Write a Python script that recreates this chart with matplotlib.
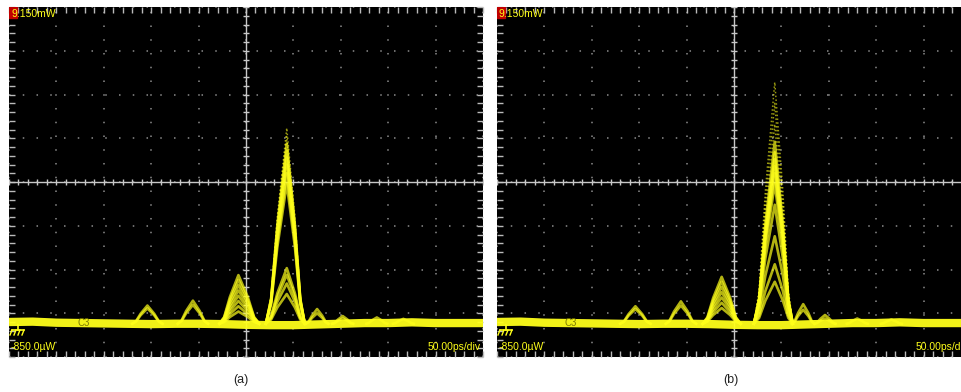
import matplotlib
matplotlib.use("Agg")
import matplotlib.pyplot as plt
from matplotlib.patches import Rectangle
import numpy as np

plt.rcParams['font.family'] = ['Liberation Sans', 'DejaVu Sans']

# ---------------- data (time in ps, power in mW) ----------------
y_top_label = "9.150mW"
y_bot_label = "-850.0\u00b5W"
x_scale_label = "50.00ps/div"
panel_labels = ["(a)", "(b)"]

base_t = [-250, -225, -200, -175, -150, -125, -100, -75, -50, -25, 0,
          25, 50, 75, 100, 125, 150, 175, 200, 225, 250]
base_a = [0.15, 0.16, 0.13, 0.12, 0.11, 0.10, 0.09, 0.10, 0.10, 0.09, 0.07,
          0.06, 0.06, 0.08, 0.10, 0.12, 0.12, 0.14, 0.12, 0.12, 0.12]
base_b = [0.15, 0.16, 0.13, 0.12, 0.11, 0.10, 0.09, 0.10, 0.10, 0.09, 0.07,
          0.06, 0.06, 0.08, 0.10, 0.12, 0.12, 0.14, 0.12, 0.12, 0.12]

# normalised pulse shape (fraction of half-width, fraction of height)
shape_x = [-1.0, -0.75, -0.45, 0.0, 0.45, 0.75, 1.0]
shape_y = [0.0, 0.14, 0.55, 1.0, 0.55, 0.14, 0.0]

# pulses: centre time, left half-width, right half-width, amplitudes
pulse_t_a = [-104, -56, -8, 43, 75, 102, 138, 166]
pulse_wl_a = [16, 16, 20, 22, 12, 11, 11, 11]
pulse_wr_a = [16, 16, 22, 19, 12, 11, 11, 11]
pulse_amp_a = [
    [0.62, 0.54],
    [0.76, 0.64],
    [1.49, 1.35, 1.20, 1.05, 0.90, 0.75, 0.60, 0.45],
    [5.69, 5.45, 5.25, 5.05, 4.85, 4.65, 4.40, 4.10, 1.69, 1.50, 1.25, 0.95],
    [0.52, 0.40],
    [0.32, 0.25],
    [0.28],
    [0.24],
]

pulse_t_b = [-104, -56, -13, 43, 73, 96, 130, 166]
pulse_wl_b = [16, 16, 20, 22, 12, 11, 11, 11]
pulse_wr_b = [16, 16, 20, 19, 12, 11, 11, 11]
pulse_amp_b = [
    [0.60, 0.52],
    [0.74, 0.62],
    [1.44, 1.30, 1.15, 1.00, 0.85, 0.70, 0.55],
    [7.00, 6.40, 5.80, 5.30, 5.00, 4.80, 4.60, 4.40, 4.10, 3.50, 2.60,
     1.80, 1.30],
    [0.66, 0.50],
    [0.35, 0.25],
    [0.25],
    [0.22],
]

# ---------------- layout ----------------
W, H = 962, 392
fig = plt.figure(figsize=(W / 100, H / 100), dpi=100)
fig.patch.set_facecolor('white')

YEL = '#ffff1a'
GRID = '#8c8c8c'
XMIN, XMAX = -250, 250
YMIN, YMAX = -0.85, 9.15


def make_panel(x0, base_y, p_t, p_wl, p_wr, p_amp, label, label_x):
    ax = fig.add_axes([x0 / W, (H - 357) / H, 474 / W, 350 / H])
    ax.set_facecolor('black')
    ax.set_xlim(XMIN, XMAX)
    ax.set_ylim(YMIN, YMAX)
    for s in ax.spines.values():
        s.set_visible(False)
    ax.set_xticks(np.arange(XMIN, XMAX + 1, 50))
    ax.set_yticks(np.linspace(YMIN, YMAX, 9))
    ax.set_xticks(np.arange(XMIN, XMAX + 1, 10), minor=True)
    ax.set_yticks(np.linspace(YMIN, YMAX, 41), minor=True)
    ax.tick_params(which='both', direction='in', length=4, width=1,
                   colors='#bbbbbb', top=True, right=True,
                   labelbottom=False, labelleft=False)
    ax.grid(True, which='major', color=GRID, linestyle=(0, (1, 8)), lw=1.1)
    yc = (YMIN + YMAX) / 2
    ax.axhline(yc, color='#c8c8c8', lw=1.0)
    ax.axvline(0, color='#c8c8c8', lw=1.0)
    ax.plot(np.arange(XMIN, XMAX + 1, 10), [yc] * 51, ls='none',
            marker='|', ms=5, color='#c8c8c8', mew=1)
    ax.plot([0] * 41, np.linspace(YMIN, YMAX, 41), ls='none',
            marker='_', ms=5, color='#c8c8c8', mew=1)

    # baseline band
    ax.plot(base_t, base_y, color=YEL, lw=6.0, solid_capstyle='butt',
            alpha=0.95)
    # pulses
    for tc, wl, wr, amps in zip(p_t, p_wl, p_wr, p_amp):
        xs = [tc + f * (wl if f < 0 else wr) for f in shape_x]
        for i, a in enumerate(amps):
            ys = [b + f * (a - b) for f, b in zip(shape_y, [0.1] * len(shape_y))]
            if a > 5.3:
                ax.plot(xs, ys, color=YEL, lw=1.1, alpha=0.6,
                        ls=(0, (1.0, 1.5)))
            else:
                ax.plot(xs, ys, color=YEL, lw=1.9, alpha=0.7,
                        solid_joinstyle='round')

    # on-screen annotations
    ax.add_patch(Rectangle((0, 1 - 11 / 350), 8 / 474, 11 / 350,
                           transform=ax.transAxes, color='#c00000', zorder=5))
    ax.text(2 / 474, 1 - 7 / 350, y_top_label, transform=ax.transAxes,
            color=YEL, fontsize=7.5, va='center', ha='left', zorder=6)
    ax.text(2 / 474, 10 / 350, y_bot_label, transform=ax.transAxes,
            color=YEL, fontsize=7.5, va='center', ha='left', zorder=6)
    ax.text(472 / 474, 10 / 350, x_scale_label, transform=ax.transAxes,
            color=YEL, fontsize=7.5, va='center', ha='right', zorder=6)
    ax.text(68 / 474, 34 / 350, "C3", transform=ax.transAxes,
            color='#7a7a00', fontsize=7, va='center', ha='left', zorder=6)
    # ground symbol
    gx, gy = 3 / 474, 27 / 350
    ax.plot([gx, gx + 12 / 474], [gy, gy], transform=ax.transAxes,
            color=YEL, lw=1.2, zorder=6)
    ax.plot([gx + 6 / 474, gx + 6 / 474], [gy, gy + 5 / 350],
            transform=ax.transAxes, color=YEL, lw=1.2, zorder=6)
    for k in range(4):
        xx = gx + k * 4 / 474
        ax.plot([xx, xx - 2 / 474], [gy, gy - 5 / 350],
                transform=ax.transAxes, color=YEL, lw=1.0, zorder=6)

    fig.text(label_x / W, 1 - 380 / H, label, ha='center', va='center',
             fontsize=9, color='#222222')
    return ax


make_panel(9, base_a, pulse_t_a, pulse_wl_a, pulse_wr_a, pulse_amp_a,
           panel_labels[0], 241)
make_panel(497, base_b, pulse_t_b, pulse_wl_b, pulse_wr_b, pulse_amp_b,
           panel_labels[1], 731)

fig.savefig('out.png', dpi=100, facecolor='white')
